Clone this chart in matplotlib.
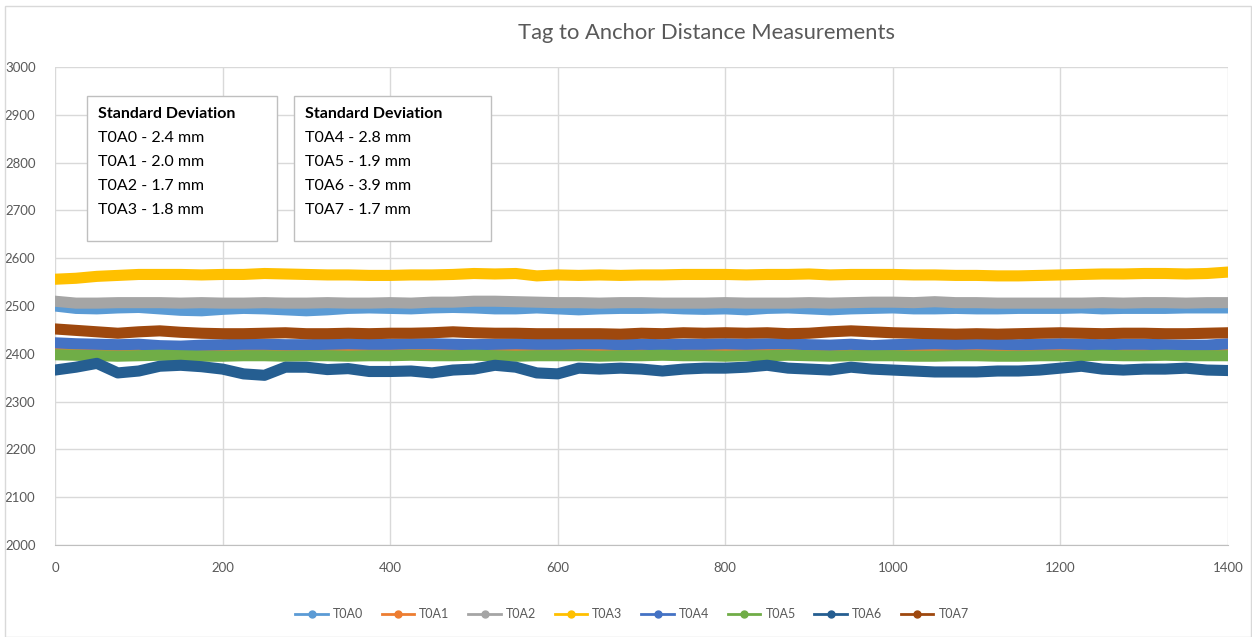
import numpy as np
import matplotlib
matplotlib.use("Agg")
import matplotlib.pyplot as plt
from matplotlib.patches import Rectangle

# sample index (every 25th reading)
x = list(range(0, 1401, 25))

# distance readings (mm)
T0A0 = [2500, 2495, 2494, 2496, 2497, 2494, 2491, 2490, 2493, 2495, 2494, 2492, 2490, 2492, 2495,
        2496, 2495, 2494, 2496, 2497, 2496, 2494, 2494, 2496, 2494, 2492, 2494, 2495, 2495, 2496,
        2494, 2493, 2494, 2492, 2495, 2496, 2494, 2492, 2494, 2495, 2496, 2494, 2494, 2495, 2494,
        2494, 2495, 2495, 2495, 2496, 2494, 2495, 2495, 2495, 2496, 2496, 2496]
T0A1 = [2415, 2413, 2411, 2410, 2412, 2411, 2410, 2411, 2411, 2412, 2410, 2410, 2411, 2410, 2411,
        2410, 2411, 2410, 2411, 2412, 2413, 2415, 2415, 2412, 2411, 2410, 2411, 2410, 2411, 2410,
        2410, 2411, 2412, 2411, 2410, 2411, 2410, 2411, 2412, 2413, 2413, 2412, 2411, 2410, 2411,
        2410, 2411, 2412, 2411, 2410, 2411, 2410, 2411, 2412, 2411, 2414, 2412]
T0A2 = [2510, 2506, 2506, 2507, 2507, 2507, 2506, 2507, 2506, 2506, 2507, 2506, 2506, 2507, 2506,
        2506, 2507, 2506, 2508, 2508, 2510, 2510, 2509, 2508, 2507, 2507, 2506, 2507, 2507, 2506,
        2506, 2506, 2507, 2506, 2506, 2506, 2507, 2506, 2507, 2508, 2508, 2507, 2509, 2507, 2507,
        2506, 2506, 2506, 2506, 2506, 2507, 2506, 2507, 2507, 2506, 2507, 2507]
T0A3 = [2556, 2558, 2562, 2564, 2566, 2566, 2566, 2565, 2566, 2566, 2568, 2567, 2566, 2565, 2565,
        2564, 2564, 2565, 2565, 2566, 2568, 2567, 2568, 2563, 2565, 2564, 2565, 2564, 2565, 2565,
        2566, 2566, 2566, 2565, 2566, 2566, 2567, 2565, 2566, 2566, 2566, 2565, 2565, 2564, 2564,
        2563, 2563, 2564, 2565, 2566, 2567, 2567, 2568, 2568, 2567, 2568, 2571]
T0A4 = [2423, 2421, 2420, 2419, 2420, 2417, 2416, 2418, 2419, 2420, 2420, 2419, 2419, 2420, 2421,
        2420, 2420, 2421, 2421, 2420, 2419, 2420, 2421, 2420, 2420, 2421, 2421, 2419, 2420, 2419,
        2420, 2420, 2421, 2420, 2421, 2421, 2419, 2418, 2420, 2417, 2419, 2420, 2421, 2420, 2421,
        2420, 2419, 2420, 2421, 2420, 2419, 2420, 2420, 2419, 2418, 2418, 2421]
T0A5 = [2398, 2397, 2396, 2395, 2396, 2397, 2396, 2395, 2395, 2396, 2396, 2395, 2396, 2396, 2395,
        2396, 2396, 2397, 2396, 2396, 2397, 2396, 2395, 2396, 2396, 2396, 2395, 2396, 2396, 2397,
        2396, 2396, 2395, 2396, 2396, 2397, 2396, 2395, 2396, 2396, 2396, 2395, 2395, 2396, 2396,
        2395, 2395, 2396, 2396, 2396, 2397, 2396, 2396, 2397, 2396, 2396, 2396]
T0A6 = [2366, 2372, 2380, 2360, 2364, 2374, 2376, 2373, 2368, 2358, 2355, 2372, 2372, 2367, 2369,
        2363, 2363, 2364, 2360, 2366, 2368, 2376, 2372, 2360, 2358, 2370, 2368, 2370, 2368, 2364,
        2368, 2370, 2370, 2372, 2376, 2370, 2368, 2366, 2372, 2368, 2366, 2364, 2362, 2362, 2362,
        2364, 2364, 2366, 2370, 2374, 2368, 2366, 2368, 2368, 2370, 2366, 2365]
T0A7 = [2452, 2449, 2446, 2443, 2446, 2448, 2445, 2443, 2442, 2442, 2443, 2444, 2442, 2442, 2443,
        2442, 2443, 2443, 2444, 2446, 2444, 2443, 2443, 2442, 2442, 2442, 2442, 2441, 2443, 2442,
        2444, 2443, 2444, 2443, 2444, 2442, 2443, 2446, 2448, 2446, 2444, 2443, 2442, 2441, 2442,
        2441, 2442, 2443, 2444, 2443, 2442, 2443, 2443, 2442, 2442, 2443, 2444]

names = ["T0A0", "T0A1", "T0A2", "T0A3", "T0A4", "T0A5", "T0A6", "T0A7"]
series = [T0A0, T0A1, T0A2, T0A3, T0A4, T0A5, T0A6, T0A7]
colors = ["#5B9BD5", "#ED7D31", "#A5A5A5", "#FFC000",
          "#4472C4", "#70AD47", "#255E91", "#9E480E"]

std_left = ["T0A0 - 2.4 mm", "T0A1 - 2.0 mm", "T0A2 - 1.7 mm", "T0A3 - 1.8 mm"]
std_right = ["T0A4 - 2.8 mm", "T0A5 - 1.9 mm", "T0A6 - 3.9 mm", "T0A7 - 1.7 mm"]

plt.rcParams['font.family'] = ['Lato', 'DejaVu Sans']

W, H = 1252, 637
fig = plt.figure(figsize=(W / 100, H / 100), dpi=100)
ax = fig.add_axes([55 / W, 1 - 545 / H, (1228 - 55) / W, (545 - 67) / H])

for name, ys, c in zip(names, series, colors):
    ax.plot(x, ys, color=c, lw=8, solid_capstyle="round", solid_joinstyle="round",
            label=name)

ax.set_xlim(0, 1400)
ax.set_ylim(2000, 3000)
ax.set_xticks(range(0, 1401, 200))
ax.set_yticks(range(2000, 3001, 100))
ax.grid(True, color="#D9D9D9", lw=1)
ax.set_axisbelow(True)
for s in ["top", "right", "left"]:
    ax.spines[s].set_visible(False)
ax.spines["bottom"].set_color("#BFBFBF")
ax.tick_params(length=0, colors="#595959", labelsize=9.5)
ax.tick_params(axis="y", pad=14)
ax.tick_params(axis="x", pad=12)

fig.text(706 / W, 1 - 33 / H, "Tag to Anchor Distance Measurements",
         ha="center", va="center", fontsize=15.8, color="#595959")

# standard deviation boxes
for x0, x1, lines in [(87, 277, std_left), (294, 491, std_right)]:
    fig.patches.append(Rectangle((x0 / W, 1 - 241 / H), (x1 - x0) / W, (241 - 96) / H,
                                 transform=fig.transFigure, facecolor="white",
                                 edgecolor="#BFBFBF", lw=1, zorder=5))
    fig.text((x0 + 11) / W, 1 - 114 / H, "Standard Deviation", ha="left", va="center",
             fontsize=11.5, fontweight="bold", color="black", zorder=6)
    for i, t in enumerate(lines):
        fig.text((x0 + 11) / W, 1 - (138 + 24 * i) / H, t, ha="left", va="center",
                 fontsize=11.5, color="black", zorder=6)

# chart border
fig.patches.append(Rectangle((5 / W, 0.5 / H), (W - 6) / W, (H - 6) / H,
                             transform=fig.transFigure, fill=False,
                             edgecolor="#D9D9D9", lw=1))

handles = [plt.Line2D([], [], color=c, lw=2, marker="o", markersize=5) for c in colors]
fig.legend(handles, names, loc="center", bbox_to_anchor=(632 / W, 1 - 614 / H),
           ncol=8, frameon=False, fontsize=9, labelcolor="#595959",
           handlelength=2.6, columnspacing=1.5, handletextpad=0.4)

fig.savefig("out.png", dpi=100)
